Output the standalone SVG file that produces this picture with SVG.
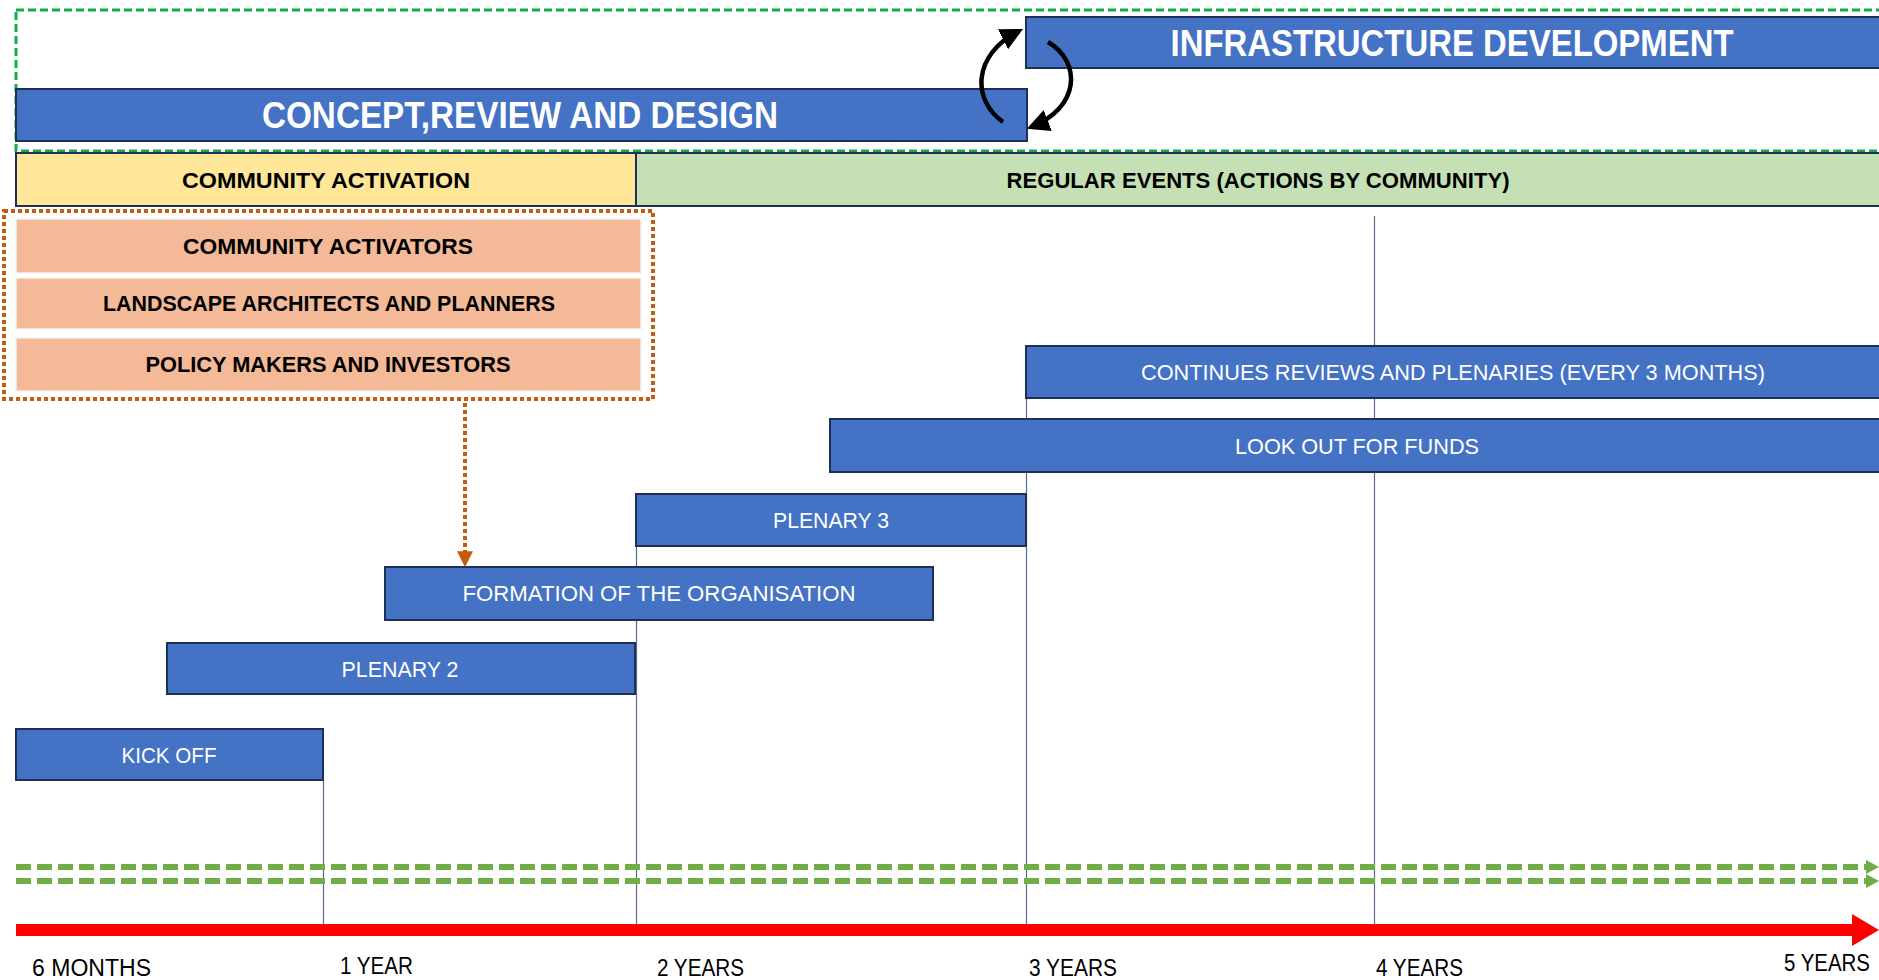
<svg xmlns="http://www.w3.org/2000/svg" width="1879" height="980" viewBox="0 0 1879 980">
<style>
.bar{fill:#4472C4;stroke:#1F3056;stroke-width:2}
.wt{fill:#fff;font-family:"Liberation Sans",Arial,sans-serif;font-size:22px;text-anchor:middle}
.big{fill:#fff;font-family:"Liberation Sans",Arial,sans-serif;font-size:36px;font-weight:bold;text-anchor:middle}
.bk{fill:#000;font-family:"Liberation Sans",Arial,sans-serif;font-size:22px;font-weight:bold;text-anchor:middle}
.ax{fill:#000;font-family:"Liberation Sans",Arial,sans-serif;font-size:23px;text-anchor:start}
.org{fill:#F4B996;stroke:#F2F2F2;stroke-width:1.5}
.vl{stroke:#5A6A8A;stroke-width:1.2}
.gd{stroke:#70AD47;stroke-width:6;stroke-dasharray:15 6;fill:none}
</style>
<defs>
<marker id="blk" viewBox="0 0 10 10" refX="8" refY="5" markerWidth="5" markerHeight="5" orient="auto" markerUnits="strokeWidth">
<path d="M0,0 L10,5 L0,10 z" fill="#000"/>
</marker>
<marker id="orn" viewBox="0 0 10 10" refX="8" refY="5" markerWidth="4" markerHeight="4" orient="auto" markerUnits="strokeWidth">
<path d="M0,0 L10,5 L0,10 z" fill="#C55A11"/>
</marker>
</defs>
<rect width="1879" height="980" fill="#fff"/>

<g id="gridlines">
<line class="vl" x1="323.5" y1="780" x2="323.5" y2="926"/>
<line class="vl" x1="636.5" y1="546" x2="636.5" y2="926"/>
<line class="vl" x1="1026.5" y1="398" x2="1026.5" y2="926"/>
<line class="vl" x1="1374.5" y1="216" x2="1374.5" y2="926"/>
</g>

<g id="design-group">
<rect x="16" y="10" width="1880" height="141" fill="none" stroke="#16A84A" stroke-width="3" stroke-dasharray="8 4"/>
</g>

<g id="concept">
<rect class="bar" x="16" y="89" width="1011" height="52"/>
<text class="big" x="520" y="128" textLength="516" lengthAdjust="spacingAndGlyphs">CONCEPT,REVIEW AND DESIGN</text>
</g>
<g id="infra">
<rect class="bar" x="1026" y="17" width="870" height="51"/>
<text class="big" x="1452" y="56" textLength="563" lengthAdjust="spacingAndGlyphs">INFRASTRUCTURE DEVELOPMENT</text>
</g>

<g id="community-activation">
<rect x="16" y="153" width="620" height="53" fill="#FFE699" stroke="#1F3056" stroke-width="2"/>
<text class="bk" x="326" y="188" textLength="288" lengthAdjust="spacingAndGlyphs">COMMUNITY ACTIVATION</text>
</g>
<g id="regular-events">
<rect x="636" y="153" width="1260" height="53" fill="#C5E0B4" stroke="#1F3056" stroke-width="2"/>
<text class="bk" x="1258" y="188" textLength="503" lengthAdjust="spacingAndGlyphs">REGULAR EVENTS (ACTIONS BY COMMUNITY)</text>
</g>

<g id="actors">
<rect x="4" y="211" width="649" height="188" fill="none" stroke="#C55A11" stroke-width="4" stroke-dasharray="4 3"/>
<g id="activators">
<rect class="org" x="16" y="219" width="625" height="54"/>
<text class="bk" x="328" y="254" textLength="290" lengthAdjust="spacingAndGlyphs">COMMUNITY ACTIVATORS</text>
</g>
<g id="architects">
<rect class="org" x="16" y="278" width="625" height="51"/>
<text class="bk" x="329" y="311" textLength="452" lengthAdjust="spacingAndGlyphs">LANDSCAPE ARCHITECTS AND PLANNERS</text>
</g>
<g id="policy">
<rect class="org" x="16" y="338" width="625" height="53"/>
<text class="bk" x="328" y="372" textLength="365" lengthAdjust="spacingAndGlyphs">POLICY MAKERS AND INVESTORS</text>
</g>
</g>

<g id="continues">
<rect class="bar" x="1026" y="346" width="870" height="52"/>
<text class="wt" x="1453" y="380" textLength="624" lengthAdjust="spacingAndGlyphs">CONTINUES REVIEWS AND PLENARIES (EVERY 3 MONTHS)</text>
</g>
<g id="funds">
<rect class="bar" x="830" y="419" width="1066" height="53"/>
<text class="wt" x="1357" y="454" textLength="244" lengthAdjust="spacingAndGlyphs">LOOK OUT FOR FUNDS</text>
</g>
<g id="plenary3">
<rect class="bar" x="636" y="494" width="390" height="52"/>
<text class="wt" x="831" y="528" textLength="116" lengthAdjust="spacingAndGlyphs">PLENARY 3</text>
</g>
<g id="formation">
<rect class="bar" x="385" y="567" width="548" height="53"/>
<text class="wt" x="659" y="601" textLength="393" lengthAdjust="spacingAndGlyphs">FORMATION OF THE ORGANISATION</text>
</g>
<g id="plenary2">
<rect class="bar" x="167" y="643" width="468" height="51"/>
<text class="wt" x="400" y="677" textLength="117" lengthAdjust="spacingAndGlyphs">PLENARY 2</text>
</g>
<g id="kickoff">
<rect class="bar" x="16" y="729" width="307" height="51"/>
<text class="wt" x="169" y="763" textLength="95" lengthAdjust="spacingAndGlyphs">KICK OFF</text>
</g>

<g id="connectors">
<path d="M1003,122 C972,100 972,55 1019,31" fill="none" stroke="#000" stroke-width="4.5" marker-end="url(#blk)"/>
<path d="M1048,42 C1082,62 1080,108 1031,127" fill="none" stroke="#000" stroke-width="4.5" marker-end="url(#blk)"/>
<line x1="465" y1="403" x2="465" y2="564" stroke="#C55A11" stroke-width="4" stroke-dasharray="4 3" marker-end="url(#orn)"/>
<line class="gd" x1="16" y1="867" x2="1868" y2="867"/>
<line class="gd" x1="16" y1="881" x2="1868" y2="881"/>
<path d="M1866,860 L1879,867 L1866,874 z" fill="#70AD47"/>
<path d="M1866,874 L1879,881 L1866,888 z" fill="#70AD47"/>
<path d="M16,924 L1852,924 L1852,914 L1879,930 L1852,946 L1852,936 L16,936 z" fill="#FF0000"/>
</g>

<g id="axis-labels">
<text class="ax" x="32" y="976" textLength="119" lengthAdjust="spacingAndGlyphs">6 MONTHS</text>
<text class="ax" x="340" y="974" textLength="73" lengthAdjust="spacingAndGlyphs">1 YEAR</text>
<text class="ax" x="657" y="976" textLength="87" lengthAdjust="spacingAndGlyphs">2 YEARS</text>
<text class="ax" x="1029" y="976" textLength="88" lengthAdjust="spacingAndGlyphs">3 YEARS</text>
<text class="ax" x="1376" y="976" textLength="87" lengthAdjust="spacingAndGlyphs">4 YEARS</text>
<text class="ax" x="1784" y="971" textLength="86" lengthAdjust="spacingAndGlyphs">5 YEARS</text>
</g>
</svg>
